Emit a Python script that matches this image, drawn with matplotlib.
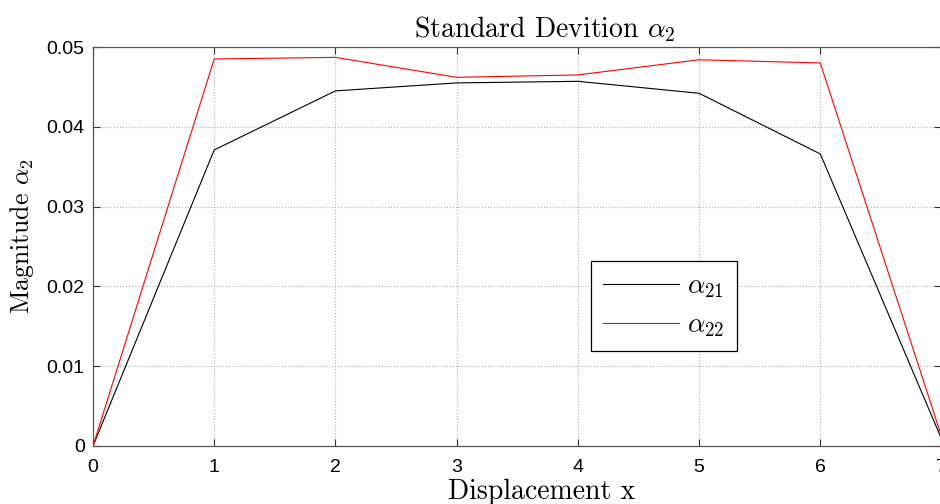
import matplotlib
matplotlib.use("Agg")
import matplotlib.pyplot as plt

x = [0, 1, 2, 3, 4, 5, 6, 7]
alpha21 = [0.0, 0.0371, 0.0445, 0.0455, 0.0457, 0.0442, 0.0366, 0.0009]
alpha22 = [0.0, 0.0485, 0.0487, 0.0462, 0.0465, 0.0484, 0.0480, 0.0012]
yticks = [0, 0.01, 0.02, 0.03, 0.04, 0.05]
ytick_labels = ["0", "0.01", "0.02", "0.03", "0.04", "0.05"]

plt.rcParams['mathtext.fontset'] = 'cm'

fig = plt.figure(figsize=(9.4, 5.04), dpi=100)
ax = fig.add_axes([93/940, (504-446)/504, (941.5-93)/940, (446-47)/504])

ax.plot(x, alpha21, color='black', lw=0.8, label=r'$\alpha_{21}$')
ax.plot(x, alpha22, color='red', lw=0.8, label=r'$\alpha_{22}$')

ax.set_xlim(0, 7)
ax.set_ylim(0, 0.05)
ax.set_xticks(x)
ax.set_yticks(yticks)
ax.set_yticklabels(ytick_labels)
ax.tick_params(direction='in', top=True, right=True, length=5, width=0.8,
               color='#333333', labelsize=14)
ax.tick_params(axis='x', pad=9)
ax.tick_params(axis='y', pad=6)
for lbl in ax.get_xticklabels() + ax.get_yticklabels():
    lbl.set_family('Liberation Sans')
ax.grid(True, linestyle=':', color='#b0b0b0', lw=0.8)
for s in ax.spines.values():
    s.set_color('#555555')
    s.set_linewidth(0.9)

ax.set_title(r'Standard Devition $\alpha_2$', fontfamily='cmr10', fontsize=20,
             pad=7, x=0.533)
ax.set_xlabel('Displacement x', fontfamily='cmr10', fontsize=20)
ax.xaxis.set_label_coords(0.529, -0.082)
ax.set_ylabel(r'Magnitude $\alpha_2$', fontfamily='cmr10', fontsize=18.5)
ax.yaxis.set_label_coords(-0.067, 0.526)

leg = ax.legend(loc='lower left', bbox_to_anchor=(0.587, 0.238), fontsize=19.5,
                fancybox=False, framealpha=1, edgecolor='black',
                handlelength=2.8, borderpad=0.45, labelspacing=0.45,
                handletextpad=0.3, borderaxespad=0)
leg.get_frame().set_linewidth(0.9)

fig.savefig('out.png', dpi=100)
